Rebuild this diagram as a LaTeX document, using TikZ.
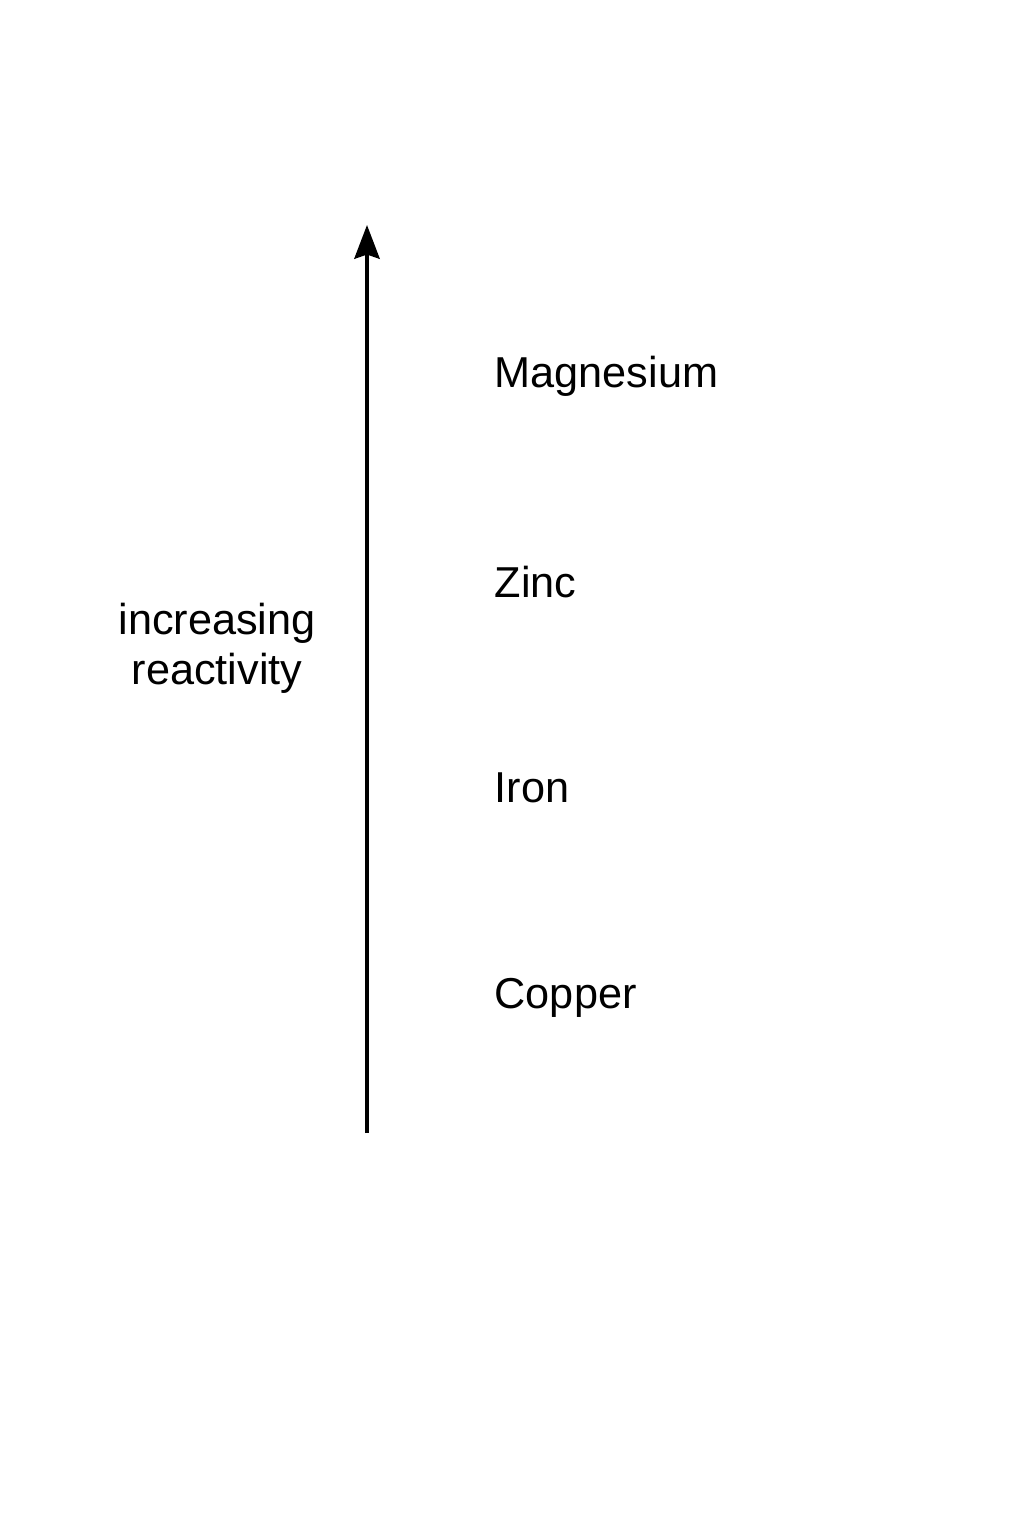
\documentclass[tikz,border=0pt]{standalone}
\usepackage{fontspec}
\setmainfont{Liberation Sans}
\usetikzlibrary{arrows.meta}
\begin{document}
\begin{tikzpicture}[x=0.01cm,y=-0.01cm]
%\draw[help lines,step=100] (0,0) grid (1024,1536);
\tikzset{metal/.style={anchor=base west,inner sep=0pt,font=\fontsize{12.3}{14.2}\selectfont}}
%% Page
\useasboundingbox (0,0) rectangle (1024,1536);
\fill[white] (0,0) rectangle (1024,1536);
%% Arrow of reactivity
\coordinate (base) at (367,1133);
\coordinate (tip) at (367,225);
\draw[line width=1pt,-{Stealth[length=9.6pt,width=7.2pt,inset=1.2pt]}] (base) -- (tip);
\node[align=center,inner sep=0pt,font=\fontsize{12.3}{14.2}\selectfont] (label) at (217,648)
	{increasing\\reactivity};
%% Metals
\def\a{494}
\node[metal] (mg) at (\a,387) {Magnesium};
\node[metal] (zn) at (\a,597) {Zinc};
\node[metal] (fe) at (\a,802) {Iron};
\node[metal] (cu) at (\a,1008) {Copper};
\end{tikzpicture}
\end{document}
